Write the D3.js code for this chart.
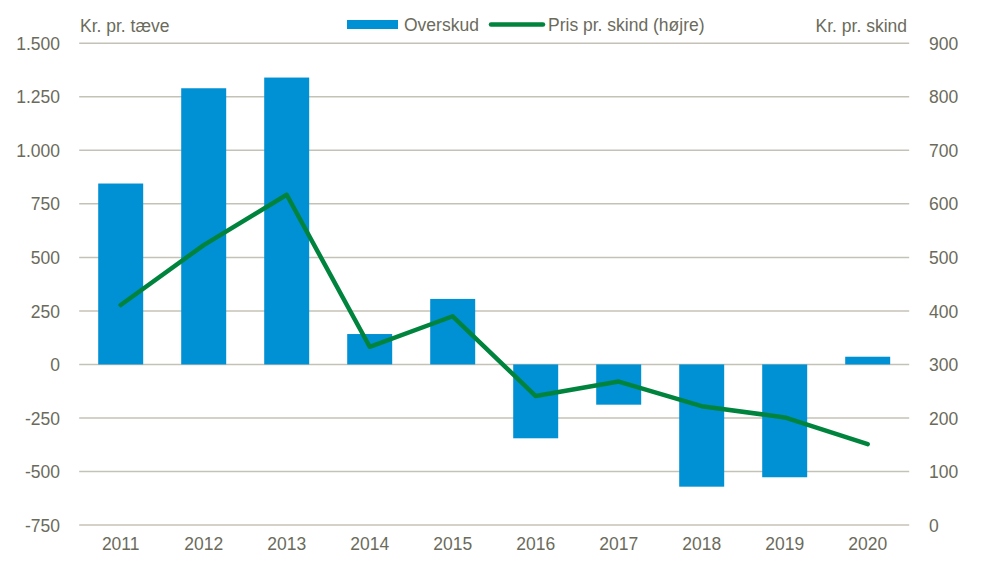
<!DOCTYPE html>
<html><head><meta charset="utf-8">
<script src="https://cdn.jsdelivr.net/npm/d3@7"></script>
<style>
body{margin:0;background:#fff;}
text{font-family:"Liberation Sans",Arial,sans-serif;fill:#6b6b5c;}
</style></head>
<body><svg id="c" width="985" height="561"></svg>
<script>
const years = ["2011","2012","2013","2014","2015","2016","2017","2018","2019","2020"];
const overskud = [845, 1290, 1340, 142, 306, -345, -188, -571, -527, 36];
const prisPrSkind = [411, 523, 617, 333, 390, 241, 268, 222, 201, 151];
const leftTicks = [-750, -500, -250, 0, 250, 500, 750, 1000, 1250, 1500];
const rightTicks = [0, 100, 200, 300, 400, 500, 600, 700, 800, 900];
const seriesNames = ["Overskud", "Pris pr. skind (højre)"];
const leftTitle = "Kr. pr. tæve";
const rightTitle = "Kr. pr. skind";

const svg = d3.select("#c");
const L = 79.2, R = 909.2, T = 43.3, B = 525;
const fs = 17.5;
const x = d3.scaleBand().domain(years).range([L, R]).paddingInner(0.458).paddingOuter(0.229);
const yL = d3.scaleLinear().domain([-750, 1500]).range([B, T]);
const yR = d3.scaleLinear().domain([0, 900]).range([B, T]);
const fmt = v => d3.format(",")(v).replace(/,/g, ".").replace("\u2212", "-");

// gridlines
svg.append("g").selectAll("line").data(leftTicks).join("line")
  .attr("x1", L).attr("x2", R).attr("y1", d => yL(d)).attr("y2", d => yL(d))
  .attr("stroke", "#c4c2b6").attr("stroke-width", 1.5);

// left axis
const ax = d3.axisLeft(yL).tickValues(leftTicks).tickFormat(fmt).tickSize(0).tickPadding(0);
const gl = svg.append("g").attr("transform", `translate(60,0)`).call(ax);
gl.select(".domain").remove();
gl.selectAll("text").attr("font-size", fs).attr("fill", "#6b6b5c").attr("dy", "0.35em").attr("font-family", '"Liberation Sans",Arial,sans-serif');

const axr = d3.axisRight(yR).tickValues(rightTicks).tickSize(0).tickPadding(0);
const gr = svg.append("g").attr("transform", `translate(929,0)`).call(axr);
gr.select(".domain").remove();
gr.selectAll("text").attr("font-size", fs).attr("fill", "#6b6b5c").attr("dy", "0.35em").attr("font-family", '"Liberation Sans",Arial,sans-serif');

const axb = d3.axisBottom(x).tickSize(0).tickPadding(0);
const gb = svg.append("g").attr("transform", `translate(0,538)`).call(axb);
gb.select(".domain").remove();
gb.selectAll("text").attr("font-size", fs).attr("fill", "#6b6b5c").attr("dy", "0.71em").attr("font-family", '"Liberation Sans",Arial,sans-serif');

// bars
svg.append("g").selectAll("rect").data(years).join("rect")
  .attr("x", d => x(d))
  .attr("width", x.bandwidth())
  .attr("y", (d, i) => yL(Math.max(0, overskud[i])))
  .attr("height", (d, i) => Math.abs(yL(overskud[i]) - yL(0)))
  .attr("fill", "#0090d4");

// line
const line = d3.line().x((d, i) => x(years[i]) + x.bandwidth() / 2).y(d => yR(d));
svg.append("path").datum(prisPrSkind).attr("d", line)
  .attr("fill", "none").attr("stroke", "#00843d").attr("stroke-width", 4.5)
  .attr("stroke-linejoin", "round").attr("stroke-linecap", "round");

// titles
svg.append("text").attr("x", 80).attr("y", 32).attr("font-size", fs).text(leftTitle);
svg.append("text").attr("x", 907).attr("y", 32).attr("font-size", fs).attr("text-anchor", "end").text(rightTitle);

// legend
const lg = svg.append("g");
lg.append("rect").attr("x", 347).attr("y", 20).attr("width", 51).attr("height", 9).attr("fill", "#0090d4");
lg.append("text").attr("x", 404).attr("y", 24.5).attr("dy", "0.35em").attr("font-size", fs).text(seriesNames[0]);
lg.append("line").attr("x1", 491).attr("x2", 543).attr("y1", 24.5).attr("y2", 24.5)
  .attr("stroke", "#00843d").attr("stroke-width", 4.5).attr("stroke-linecap", "round");
lg.append("text").attr("x", 548).attr("y", 24.5).attr("dy", "0.35em").attr("font-size", fs).text(seriesNames[1]);
</script></body></html>
